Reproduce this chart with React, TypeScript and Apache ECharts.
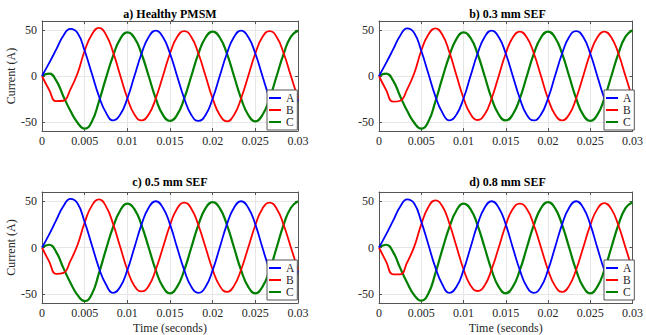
import React, { useEffect, useRef } from "react";
import * as echarts from "echarts";

// Time samples (s)
const T = [
  0, 0.00083, 0.00167, 0.0025, 0.00333, 0.00417, 0.005, 0.00583, 0.00667, 0.0075,
  0.00833, 0.00917, 0.01, 0.01083, 0.01167, 0.0125, 0.01333, 0.01417, 0.015, 0.01583,
  0.01667, 0.0175, 0.01833, 0.01917, 0.02, 0.02083, 0.02167, 0.0225, 0.02333, 0.02417,
  0.025, 0.02583, 0.02667, 0.0275, 0.02833, 0.02917, 0.03,
];

// a) Healthy PMSM
const A_a = [0, 14, 29, 44, 51.5, 47, 27.5, 3, -22, -40, -48.5, -42, -24.5, 0, 24.5, 42.5, 49.5, 42.5, 24.5, 0, -24.5, -42.5, -49, -42.5, -24.5, 0, 24.5, 42.5, 49.5, 42.5, 24.5, 0, -24.5, -42.5, -49, -42, -25];
const B_a = [0, -15, -27.5, -27, -14.5, 3, 27.5, 45, 52.5, 45, 26, 0.5, -24, -42, -48.5, -42, -24.5, 0, 24.5, 42.5, 49, 42.5, 24.5, 0, -24.5, -42.5, -49.5, -42.5, -24.5, 0, 24.5, 42.5, 49, 42.5, 24.5, 0, -24.5];
const C_a = [0, 2.5, -5, -22, -38, -51, -57.5, -50, -28, -2, 22, 40.5, 47.5, 41.5, 24, 0, -24.5, -42.5, -49, -42.5, -24.5, 0, 24.5, 42, 48.5, 42, 24.5, 0, -24.5, -42.5, -49.5, -42.5, -24.5, 0, 24.5, 43, 49.5];

// b) 0.3 mm SEF
const A_b = [0, 14, 29, 44, 52, 47, 27.5, 3, -22, -40, -48.5, -42, -24.5, 0, 24.5, 42.5, 49.5, 42.5, 24.5, 0, -24.5, -42.5, -48.5, -42, -24.5, 0, 24.5, 42.5, 49, 42.5, 24.5, 0, -24.5, -42.5, -49, -42, -25];
const B_b = [0, -15, -28, -27, -14.5, 3, 27.5, 45, 52, 45, 26, 0.5, -24, -41.5, -48, -42, -24.5, 0, 24.5, 42, 48.5, 42, 24.5, 0, -24.5, -42, -48.5, -42, -24.5, 0, 24.5, 42, 48.5, 42, 24.5, 0, -24.5];
const C_b = [0, 2.5, -5, -22, -38, -51, -57.5, -50, -28, -2, 22, 40.5, 47.5, 41.5, 24, 0, -24.5, -42, -48.5, -42, -24.5, 0, 24.5, 42, 48.5, 42, 24.5, 0, -24.5, -42.5, -49, -42.5, -24.5, 0, 24.5, 43, 50];

// c) 0.5 mm SEF
const A_c = [0, 14, 29.5, 44.5, 52.5, 47.5, 27.5, 3, -22, -40, -49, -42.5, -24.5, 0, 25, 43, 50, 43, 25, 0, -24.5, -42.5, -49, -42.5, -24.5, 0, 25, 43, 50, 43, 25, 0, -24.5, -42.5, -49, -42, -25];
const B_c = [0, -15, -28.5, -27.5, -14.5, 3, 27, 45, 52, 44.5, 25.5, 0.5, -24, -41.5, -47.5, -41.5, -24, 0, 24, 42, 48.5, 42, 24, 0, -24, -41.5, -48, -41.5, -24, 0, 24, 42, 48.5, 42, 24, 0, -24];
const C_c = [0, 3, -5, -22, -38, -51.5, -58, -50.5, -28, -2, 22, 40, 47.5, 41.5, 24, 0, -24.5, -42.5, -49.5, -42.5, -24.5, 0, 24.5, 42.5, 49, 42.5, 24.5, 0, -24.5, -42.5, -49.5, -42.5, -24.5, 0, 25, 43, 50];

// d) 0.8 mm SEF
const A_d = [0, 14, 29, 44, 52, 47.5, 28, 3.5, -21.5, -40, -49, -42.5, -24.5, 0, 25, 43, 50, 43, 25, 0, -24.5, -42.5, -49, -42.5, -24.5, 0, 25, 43, 50, 43, 25, 0, -24.5, -42.5, -49, -42, -25];
const B_d = [0, -15, -29, -29, -16, 1, 25, 43.5, 51, 44.5, 26, 1, -23.5, -41, -47, -41, -23.5, 0, 24, 41.5, 47.5, 41.5, 24, 0, -24, -41.5, -48, -41.5, -24, 0, 24, 41.5, 48, 41.5, 24, 0, -24];
const C_d = [0, 3, -5, -22, -38, -51.5, -57.5, -50, -28, -2, 22, 40, 47.5, 41.5, 24, 0, -24.5, -42.5, -49.5, -42.5, -24.5, 0, 24.5, 42.5, 49, 42.5, 24.5, 0, -24.5, -42.5, -49.5, -42.5, -24.5, 0, 24.5, 42.5, 49];

const PANEL_TITLES = ["a) Healthy PMSM", "b) 0.3 mm SEF", "c) 0.5 mm SEF", "d) 0.8 mm SEF"];
const SERIES_NAMES = ["A", "B", "C"];
const Y_TICKS = [-50, 0, 50];
const X_MIN = 0;
const X_MAX = 0.03;
const X_STEP = 0.005;
const Y_MIN = -60;
const Y_MAX = 60;
const Y_LABEL = "Current (A)";
const X_LABEL = "Time (seconds)";

const PANEL_DATA = [
  [A_a, B_a, C_a],
  [A_b, B_b, C_b],
  [A_c, B_c, C_c],
  [A_d, B_d, C_d],
];

const COLORS = ["#0000ff", "#ff0000", "#007f00"];
const WIDTHS = [1.8, 1.8, 2.2];
const FONT = '"Liberation Serif", "Times New Roman", serif';
const AXIS_COLOR = "#555555";
const TEXT_COLOR = "#262626";

const LAYOUT = [
  { left: 42, top: 21, width: 256, height: 110, ylab: true, xlab: false, lgLeft: 267, lgTop: 90, titleY: 14 },
  { left: 379, top: 21, width: 257, height: 110, ylab: false, xlab: false, lgLeft: 604, lgTop: 90, titleY: 14 },
  { left: 42, top: 192, width: 256, height: 111, ylab: true, xlab: true, lgLeft: 267, lgTop: 260, titleY: 182 },
  { left: 379, top: 192, width: 257, height: 111, ylab: false, xlab: true, lgLeft: 604, lgTop: 260, titleY: 182 },
];

export default function App() {
  const ref = useRef<HTMLDivElement>(null);
  useEffect(() => {
    if (!ref.current) return;
    const chart = echarts.init(ref.current, null, { renderer: "svg" });
    const grid: any[] = [];
    const xAxis: any[] = [];
    const yAxis: any[] = [];
    const series: any[] = [];
    const legend: any[] = [];
    const graphic: any[] = [];

    LAYOUT.forEach((L, p) => {
      grid.push({ left: L.left, top: L.top, width: L.width, height: L.height, containLabel: false });
      const tick = { show: true, inside: true, length: 3, lineStyle: { color: AXIS_COLOR, width: 1 } };
      const line = { show: true, onZero: false, lineStyle: { color: AXIS_COLOR, width: 1 } };
      xAxis.push({
        type: "value", gridIndex: p, position: "bottom", min: X_MIN, max: X_MAX, interval: X_STEP,
        axisLine: line, axisTick: tick,
        axisLabel: { show: true, margin: 4, fontFamily: FONT, fontSize: 12, color: TEXT_COLOR },
        splitLine: { show: true, lineStyle: { color: "#e6e6e6", width: 1 } },
        name: L.xlab ? X_LABEL : "", nameLocation: "middle", nameGap: 19,
        nameTextStyle: { fontFamily: FONT, fontSize: 12, color: TEXT_COLOR },
      });
      xAxis.push({
        type: "value", gridIndex: p, position: "top", min: X_MIN, max: X_MAX, interval: X_STEP,
        axisLine: line, axisTick: tick, axisLabel: { show: false }, splitLine: { show: false },
      });
      yAxis.push({
        type: "value", gridIndex: p, position: "left", min: Y_MIN, max: Y_MAX, splitNumber: 2,
        axisLine: line, axisTick: tick,
        axisLabel: {
          show: true, margin: 5, fontFamily: FONT, fontSize: 12, color: TEXT_COLOR,
          formatter: (v: number) => (Y_TICKS.includes(v) ? String(v) : ""),
        },
        splitLine: { show: true, lineStyle: { color: "#e6e6e6", width: 1 } },
        name: L.ylab ? Y_LABEL : "", nameLocation: "middle", nameGap: 21,
        nameTextStyle: { fontFamily: FONT, fontSize: 12, color: TEXT_COLOR },
      });
      yAxis.push({
        type: "value", gridIndex: p, position: "right", min: Y_MIN, max: Y_MAX, splitNumber: 2,
        axisLine: line, axisTick: tick, axisLabel: { show: false }, splitLine: { show: false },
      });
      PANEL_DATA[p].forEach((vals, s) => {
        series.push({
          type: "line",
          name: SERIES_NAMES[s],
          xAxisIndex: 2 * p,
          yAxisIndex: 2 * p,
          data: T.map((t, i) => [t, vals[i]]),
          smooth: 0.5,
          showSymbol: false,
          symbol: "none",
          lineStyle: { color: COLORS[s], width: WIDTHS[s] },
          itemStyle: { color: COLORS[s] },
          z: 2 + (2 - s),
        });
      });
      legend.push({
        orient: "vertical",
        left: L.lgLeft,
        top: L.lgTop,
        data: SERIES_NAMES,
        icon: "rect",
        itemWidth: 12,
        itemHeight: 2,
        itemGap: 0,
        padding: [2, 3, 2, 2],
        backgroundColor: "#ffffff",
        borderColor: AXIS_COLOR,
        borderWidth: 1,
        selectedMode: false,
        textStyle: { fontFamily: FONT, fontSize: 11.5, lineHeight: 11, color: TEXT_COLOR },
        z: 10,
      });
      graphic.push({
        type: "text",
        x: L.left + L.width / 2,
        y: L.titleY,
        style: {
          text: PANEL_TITLES[p],
          align: "center",
          verticalAlign: "middle",
          textAlign: "center",
          textVerticalAlign: "middle",
          font: `bold 12px ${FONT}`,
          fill: "#000000",
        },
      });
    });

    chart.setOption({
      animation: false,
      backgroundColor: "#ffffff",
      grid,
      xAxis,
      yAxis,
      series,
      legend,
      graphic,
    });
    return () => chart.dispose();
  }, []);
  return (
    <div
      ref={ref}
      style={{ position: "fixed", left: 0, top: 0, width: 646, height: 335 }}
    />
  );
}
